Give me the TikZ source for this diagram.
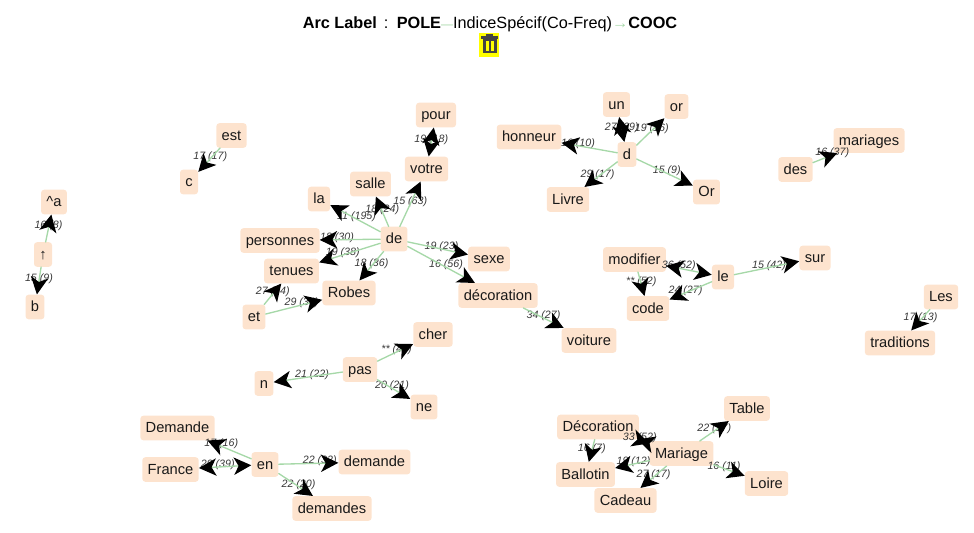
\documentclass[tikz,border=0pt]{standalone}
\usepackage{fontspec}
\setmainfont{Liberation Sans}
\usetikzlibrary{arrows.meta}
\definecolor{nodepeach}{HTML}{FDE3CE}
\definecolor{arcgreen}{HTML}{A6D8A8}
\definecolor{trashyellow}{HTML}{FFFF00}
\definecolor{trashgrey}{HTML}{444444}
\tikzset{
    word/.style={fill=nodepeach, rounded corners=2.2pt, minimum height=18.4pt, inner xsep=4pt, inner ysep=0pt, text height=8.7pt, text depth=1.7pt, text=black!90, font=\fontsize{11}{13}\selectfont},
    arc/.style={draw=arcgreen, line width=1pt},
    weight/.style={text=black!78, inner sep=0pt, yshift=1.6pt, font=\fontsize{8}{9}\selectfont\itshape},
}
\begin{document}
\begin{tikzpicture}[line cap=round, line join=round, x=0.75pt, y=-0.75pt, >={Stealth[length=13pt,width=13pt,inset=3.5pt,black]}]
                \useasboundingbox (0,0) rectangle (974,532);

                \node[font=\fontsize{12.2}{14}\selectfont] (title) at (490,24) {\textbf{Arc Label}\hspace{1.8pt} : \hspace{1.8pt}\textbf{POLE}\textcolor{arcgreen}{\fontsize{9}{9}\selectfont —}IndiceSpécif(Co-Freq)\textcolor{arcgreen}{→}\textbf{COOC}};

                \fill[trashyellow] (479,33) rectangle (499,57);
                \fill[trashgrey] (481,35.5) rectangle (498,38.5);
                \fill[trashgrey] (486,33.5) rectangle (493,36);
                \fill[trashgrey] (483,38.5) rectangle (496.5,53);
                \fill[trashyellow] (485.5,41) rectangle (488.5,50.5);
                \fill[trashyellow] (491,41) rectangle (494,50.5);

                \node[word] (pour) at (436,115) {pour};
                \node[word] (votre) at (426.5,169) {votre};
                \node[word] (salle) at (370.5,184) {salle};
                \node[word] (la) at (319,199) {la};
                \node[word] (personnes) at (280,240.5) {personnes};
                \node[word] (de) at (394,239) {de};
                \node[word] (tenues) at (291.5,271) {tenues};
                \node[word] (robes) at (349,293) {Robes};
                \node[word] (et) at (254,317) {et};
                \node[word] (sexe) at (489,259) {sexe};
                \node[word] (decoration) at (498,295.5) {décoration};
                \node[word] (voiture) at (589,340.5) {voiture};

                \node[word] (est) at (231.5,135.5) {est};
                \node[word] (c) at (189,182) {c};
                \node[word] (hat) at (54,202) {\textasciicircum a};
                \node[word] (uparrow) at (43,254.5) {↑};
                \node[word] (b) at (35,307) {b};

                \node[word] (un) at (616.5,104.5) {un};
                \node[word] (or) at (676.5,106.5) {or};
                \node[word] (honneur) at (529,137) {honneur};
                \node[word] (d) at (627,154.5) {d};
                \node[word] (livre) at (568,199.5) {Livre};
                \node[word] (Or) at (706.5,192) {Or};

                \node[word] (modifier) at (634.5,259.5) {modifier};
                \node[word] (le) at (723,277) {le};
                \node[word] (sur) at (815,258) {sur};
                \node[word] (code) at (648,308.5) {code};

                \node[word] (mariages) at (869,140.5) {mariages};
                \node[word] (des) at (795.5,169.5) {des};
                \node[word] (les) at (941,297) {Les};
                \node[word] (traditions) at (900,343) {traditions};

                \node[word] (cher) at (433,334.5) {cher};
                \node[word] (pas) at (360,369.5) {pas};
                \node[word] (n) at (264,383.5) {n};
                \node[word] (ne) at (424,407) {ne};

                \node[word] (table) at (747,408.5) {Table};
                \node[word] (Decoration) at (598,427) {Décoration};
                \node[word] (mariage) at (681.5,453.5) {Mariage};
                \node[word] (ballotin) at (585.5,474.5) {Ballotin};
                \node[word] (loire) at (766.5,483.5) {Loire};
                \node[word] (cadeau) at (625.5,500.5) {Cadeau};

                \node[word] (Demande) at (177.5,428) {Demande};
                \node[word] (france) at (170.5,469.5) {France};
                \node[word] (en) at (265,464.5) {en};
                \node[word] (demande) at (374.5,462) {demande};
                \node[word] (demandes) at (332,508.5) {demandes};

                \path (votre.center) -- node[weight] {19 (18)} (pour.center); \draw[arc,<->] (votre) -- (pour);
                \path (de.center) -- node[weight] {15 (63)} (votre.center); \draw[arc,->] (de) -- (votre);
                \path (de.center) -- node[weight] {18 (24)} (salle.center); \draw[arc,->] (de) -- (salle);
                \path (de.center) -- node[weight] {11 (195)} (la.center); \draw[arc,->] (de) -- (la);
                \path (de.center) -- node[weight] {18 (30)} (personnes.center); \draw[arc,->] (de) -- (personnes);
                \path (de.center) -- node[weight] {19 (38)} (tenues.center); \draw[arc,->] (de) -- (tenues);
                \path (de.center) -- node[weight] {18 (36)} (robes.center); \draw[arc,->] (de) -- (robes);
                \path (de.center) -- node[weight] {19 (23)} (sexe.center); \draw[arc,->] (de) -- (sexe);
                \path (de.center) -- node[weight] {16 (56)} (decoration.center); \draw[arc,->] (de) -- (decoration);
                \path (decoration.center) -- node[weight] {34 (27)} (voiture.center); \draw[arc,->] (decoration) -- (voiture);
                \path (et.center) -- node[weight] {27 (44)} (tenues.center); \draw[arc,->] (et) -- (tenues);
                \path (et.center) -- node[weight] {29 (34)} (robes.center); \draw[arc,->] (et) -- (robes);

                \path (est.center) -- node[weight] {17 (17)} (c.center); \draw[arc,->] (est) -- (c);
                \path (uparrow.center) -- node[weight] {16 (8)} (hat.center); \draw[arc,->] (uparrow) -- (hat);
                \path (uparrow.center) -- node[weight] {15 (9)} (b.center); \draw[arc,->] (uparrow) -- (b);

                \path (d.center) -- node[weight] {27 (69)} (un.center); \draw[arc,<->] (d) -- (un);
                \path (d.center) -- node[weight] {19 (16)} (or.center); \draw[arc,->] (d) -- (or);
                \path (d.center) -- node[weight] {16 (10)} (honneur.center); \draw[arc,->] (d) -- (honneur);
                \path (d.center) -- node[weight] {29 (17)} (livre.center); \draw[arc,->] (d) -- (livre);
                \path (d.center) -- node[weight] {15 (9)} (Or.center); \draw[arc,->] (d) -- (Or);

                \path (modifier.center) -- node[weight] {36 (52)} (le.center); \draw[arc,<->] (modifier) -- (le);
                \path (modifier.center) -- node[weight] {** (52)} (code.center); \draw[arc,->] (modifier) -- (code);
                \path (le.center) -- node[weight] {24 (27)} (code.center); \draw[arc,->] (le) -- (code);
                \path (le.center) -- node[weight] {15 (42)} (sur.center); \draw[arc,->] (le) -- (sur);

                \path (des.center) -- node[weight] {16 (37)} (mariages.center); \draw[arc,->] (des) -- (mariages);
                \path (les.center) -- node[weight] {17 (13)} (traditions.center); \draw[arc,->] (les) -- (traditions);

                \path (pas.center) -- node[weight] {** (47)} (cher.center); \draw[arc,->] (pas) -- (cher);
                \path (pas.center) -- node[weight] {21 (22)} (n.center); \draw[arc,->] (pas) -- (n);
                \path (pas.center) -- node[weight] {20 (21)} (ne.center); \draw[arc,->] (pas) -- (ne);

                \path (mariage.center) -- node[weight] {22 (17)} (table.center); \draw[arc,->] (mariage) -- (table);
                \path (mariage.center) -- node[weight] {33 (52)} (Decoration.center); \draw[arc,<->] (mariage) -- (Decoration);
                \path (mariage.center) -- node[weight] {19 (12)} (ballotin.center); \draw[arc,->] (mariage) -- (ballotin);
                \path (mariage.center) -- node[weight] {27 (17)} (cadeau.center); \draw[arc,->] (mariage) -- (cadeau);
                \path (mariage.center) -- node[weight] {16 (11)} (loire.center); \draw[arc,->] (mariage) -- (loire);
                \path (Decoration.center) -- node[weight] {16 (7)} (ballotin.center); \draw[arc,->] (Decoration) -- (ballotin);

                \path (en.center) -- node[weight] {17 (16)} (Demande.center); \draw[arc,->] (en) -- (Demande);
                \path (en.center) -- node[weight] {29 (39)} (france.center); \draw[arc,<->] (en) -- (france);
                \path (en.center) -- node[weight] {22 (32)} (demande.center); \draw[arc,->] (en) -- (demande);
                \path (en.center) -- node[weight] {22 (20)} (demandes.center); \draw[arc,->] (en) -- (demandes);

            \end{tikzpicture}
\end{document}
